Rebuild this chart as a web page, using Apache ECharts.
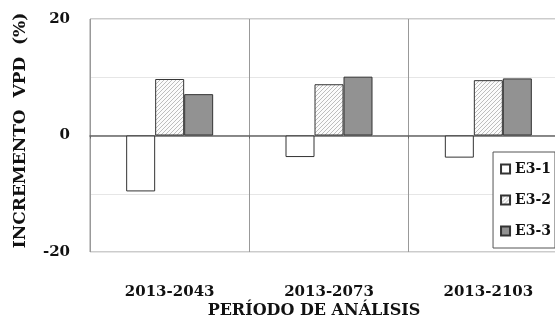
<!DOCTYPE html>
<html>
<head>
<meta charset="utf-8">
<script src="https://cdn.jsdelivr.net/npm/echarts@6/dist/echarts.min.js"></script>
<style>
  html, body { margin: 0; padding: 0; background: #fff; }
  #main { width: 555px; height: 322px; }
</style>
</head>
<body>
<div id="main"></div>
<script>
// datos
var periodos = ['2013-2043', '2013-2073', '2013-2103'];
var serieNombres = ['E3-1', 'E3-2', 'E3-3'];
var e31 = [-9.6, -3.7, -3.8];
var e32 = [9.7, 8.8, 9.5];
var e33 = [7.1, 10.1, 9.8];
var yTicks = [-20, 0, 20];

// patron rayado para E3-2
function makeHatch() {
  var c = document.createElement('canvas');
  c.width = 4;
  c.height = 4;
  var ctx = c.getContext('2d');
  ctx.fillStyle = '#fbfbfb';
  ctx.fillRect(0, 0, 4, 4);
  ctx.strokeStyle = '#bdbdbd';
  ctx.lineWidth = 1;
  ctx.beginPath();
  ctx.moveTo(0, 4); ctx.lineTo(4, 0);
  ctx.moveTo(-1, 1); ctx.lineTo(1, -1);
  ctx.moveTo(3, 5); ctx.lineTo(5, 3);
  ctx.stroke();
  return { image: c, repeat: 'repeat' };
}

var fontFam = 'DejaVu Serif';
var chartDom = document.getElementById('main');
var myChart = echarts.init(chartDom, null, { renderer: 'canvas' });

var barBase = { type: 'bar', barWidth: 29, barGap: '0%', animation: false };

var option = {
  backgroundColor: '#fff',
  grid: {
    left: 90, top: 19, right: -13, bottom: 70,
    outerBoundsMode: 'none',
    containLabel: false,
    show: true, borderColor: '#999', borderWidth: 1
  },
  legend: {
    orient: 'vertical',
    right: 0,
    top: 152,
    data: serieNombres,
    backgroundColor: '#fff',
    borderColor: '#555',
    borderWidth: 1,
    padding: [10, 4, 10, 7],
    itemGap: 17,
    itemWidth: 9,
    itemHeight: 9,
    icon: 'rect',
    textStyle: { fontFamily: fontFam, fontWeight: 'bold', fontSize: 14, color: '#111' }
  },
  xAxis: [
    {
      type: 'category',
      data: periodos,
      axisLine: { show: false, onZero: false },
      axisTick: { show: false },
      splitLine: { show: true, lineStyle: { color: '#999', width: 1 } },
      axisLabel: { fontFamily: fontFam, fontWeight: 'bold', fontSize: 15, color: '#111', margin: 33 },
      name: 'PERÍODO DE ANÁLISIS',
      nameLocation: 'middle',
      nameGap: 51,
      nameMoveOverlap: false,
      nameTextStyle: { fontFamily: fontFam, fontWeight: 'bold', fontSize: 16, color: '#111', padding: [0, 30, 0, 0] }
    },
    {
      type: 'category',
      data: periodos,
      position: 'bottom',
      axisLine: { show: true, onZero: true, lineStyle: { color: '#666', width: 1.5 } },
      axisTick: { show: true, length: 3, lineStyle: { color: '#666' } },
      axisLabel: { show: false },
      splitLine: { show: false }
    }
  ],
  yAxis: {
    type: 'value',
    min: -20,
    max: 20,
    interval: 10,
    axisLine: { show: false },
    axisTick: { show: false },
    splitLine: { show: true, lineStyle: { color: '#e6e6e6', width: 1 } },
    axisLabel: {
      fontFamily: fontFam, fontWeight: 'bold', fontSize: 15, color: '#111', margin: 20,
      formatter: function (v) { return yTicks.indexOf(v) >= 0 ? String(v) : ''; }
    },
    name: 'INCREMENTO  VPD  (%)',
    nameLocation: 'middle',
    nameGap: 61,
    nameMoveOverlap: false,
    nameTextStyle: { fontFamily: fontFam, fontWeight: 'bold', fontSize: 17, color: '#111', padding: [0, 0, 0, 10] }
  },
  series: [
    Object.assign({}, barBase, {
      name: serieNombres[0], data: e31,
      itemStyle: { color: '#fff', borderColor: '#333', borderWidth: 1 }
    }),
    Object.assign({}, barBase, {
      name: serieNombres[1], data: e32,
      itemStyle: { color: makeHatch(), borderColor: '#333', borderWidth: 1 }
    }),
    Object.assign({}, barBase, {
      name: serieNombres[2], data: e33,
      itemStyle: { color: '#929292', borderColor: '#333', borderWidth: 1 }
    })
  ]
};

option && myChart.setOption(option);
</script>
</body>
</html>
